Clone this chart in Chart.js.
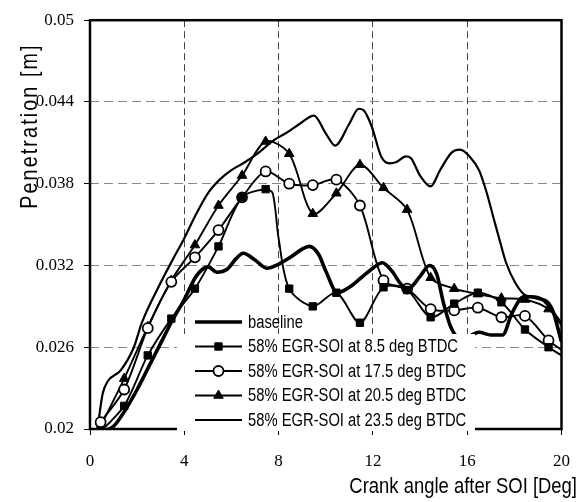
<!DOCTYPE html>
<html>
<head>
<meta charset="utf-8">
<script src="https://cdn.jsdelivr.net/npm/chart.js@4/dist/chart.umd.min.js"></script>
<style>
html,body{margin:0;padding:0;background:#fff;}
canvas{display:block;}
</style>
</head>
<body>
<canvas id="c" width="586" height="502"></canvas>
<script>
// ---- data ----
const xTicks = [0, 4, 8, 12, 16, 20];
const yTicks = [0.02, 0.026, 0.032, 0.038, 0.044, 0.05];
const yTickLabels = ['0.02', '0.026', '0.032', '0.038', '0.044', '0.05'];
const markerX = [0.45, 1.45, 2.45, 3.45, 4.45, 5.45, 6.45, 7.45, 8.45, 9.45, 10.45, 11.45, 12.45, 13.45, 14.45, 15.45, 16.45, 17.45, 18.45, 19.45];

const seriesNames = ['baseline', '58% EGR-SOI at 8.5 deg BTDC', '58% EGR-SOI at 17.5 deg BTDC', '58% EGR-SOI at 20.5 deg BTDC', '58% EGR-SOI at 23.5 deg BTDC'];
const xTitle = 'Crank angle after SOI [Deg]';
const yTitle = 'Penetration [m]';

const baseX = [0.45, 1.0, 1.5, 2.0, 2.5, 3.0, 3.5, 4.0, 4.5, 5.0, 5.4, 5.8, 6.2, 6.5, 7.0, 7.5, 8.0, 8.5, 9.0, 9.3, 9.7, 10.0, 10.5, 11.0, 11.5, 12.0, 12.4, 12.8, 13.2, 13.5, 14.0, 14.4, 14.7, 15.0, 15.3, 15.6, 16.0, 16.5, 17.0, 17.5, 17.9, 18.4, 19.0, 19.6, 20.0];
const baseY = [0.0198, 0.0202, 0.0214, 0.0229, 0.0246, 0.0263, 0.0280, 0.0295, 0.0312, 0.0319, 0.0315, 0.0317, 0.0325, 0.0329, 0.0324, 0.0318, 0.0321, 0.0326, 0.0332, 0.0334, 0.0328, 0.0316, 0.0300, 0.0304, 0.0311, 0.0318, 0.0322, 0.0316, 0.0306, 0.0303, 0.0312, 0.0320, 0.0314, 0.0292, 0.0275, 0.0268, 0.0268, 0.0271, 0.0269, 0.0269, 0.0285, 0.0297, 0.0296, 0.0288, 0.0264];

const soi85X = [0.45, 1.45, 2.45, 3.45, 4.45, 5.45, 6.45, 7.45, 7.75, 8.0, 8.45, 9.45, 10.45, 11.45, 12.45, 13.45, 14.45, 15.45, 16.45, 17.45, 18.45, 19.45, 20.0];
const soi85Y = [0.0198, 0.0217, 0.0254, 0.0281, 0.0303, 0.0334, 0.0370, 0.0376, 0.0373, 0.0340, 0.0303, 0.0290, 0.0300, 0.0278, 0.0304, 0.0302, 0.0282, 0.0292, 0.0300, 0.0293, 0.0273, 0.0260, 0.0254];

const soi175X = [0.45, 1.45, 2.45, 3.45, 4.45, 5.45, 6.45, 7.45, 8.45, 9.45, 10.45, 11.45, 12.45, 13.45, 14.45, 15.45, 16.45, 17.45, 18.45, 19.45, 20.0];
const soi175Y = [0.0205, 0.0229, 0.0274, 0.0308, 0.0326, 0.0346, 0.0370, 0.0389, 0.0380, 0.0379, 0.0383, 0.0364, 0.0309, 0.0303, 0.0288, 0.0287, 0.0289, 0.0282, 0.0283, 0.0265, 0.0258];

const soi205X = [0.45, 1.45, 2.45, 3.45, 4.45, 5.45, 6.45, 7.45, 8.45, 9.45, 10.45, 11.45, 12.45, 13.45, 14.45, 15.45, 16.45, 17.45, 18.45, 19.45, 20.0];
const soi205Y = [0.0202, 0.0237, 0.0275, 0.0309, 0.0335, 0.0364, 0.0386, 0.0411, 0.0402, 0.0358, 0.0373, 0.0394, 0.0377, 0.0361, 0.0311, 0.0303, 0.0299, 0.0296, 0.0295, 0.0288, 0.0276];

const soi235X = [0.3, 0.54, 0.75, 1.3, 1.86, 2.2, 2.9, 3.5, 4.0, 4.45, 5.0, 5.5, 6.0, 6.5, 7.1, 7.8, 8.3, 8.9, 9.5, 10.0, 10.4, 11.0, 11.4, 11.6, 11.95, 12.35, 12.7, 13.0, 13.4, 13.6, 14.0, 14.45, 14.85, 15.35, 15.7, 16.1, 16.5, 16.8, 17.1, 17.4, 17.65, 18.05, 18.5, 19.0, 19.45, 20.0];
const soi235Y = [0.0198, 0.0226, 0.0235, 0.0243, 0.0260, 0.0278, 0.0304, 0.0324, 0.0340, 0.0356, 0.0373, 0.0383, 0.0390, 0.0395, 0.0402, 0.0412, 0.0417, 0.0424, 0.0430, 0.0417, 0.0408, 0.0424, 0.0435, 0.0434, 0.0422, 0.0400, 0.0395, 0.0396, 0.0400, 0.0399, 0.0386, 0.0378, 0.0390, 0.0403, 0.0405, 0.0400, 0.0390, 0.0375, 0.0356, 0.0337, 0.0322, 0.0307, 0.0298, 0.0297, 0.0290, 0.0278];

// ---- helpers ----
const pts = (xs, ys) => xs.map((x, i) => ({x: x, y: ys[i]}));
const isMarker = (x) => markerX.some(m => Math.abs(m - x) < 1e-6);
const markerRadius = (r) => (ctx) => (ctx.raw && isMarker(ctx.raw.x)) ? r : 0;

const SANS = '"Liberation Sans", Arial, sans-serif';
const SERIF = '"Liberation Serif", "DejaVu Serif", serif';
const NARROW_SCALE = 0.82;

function condensedText(ctx, text, x, y, opts) {
  ctx.save();
  ctx.translate(x, y);
  if (opts.rotate) ctx.rotate(opts.rotate);
  ctx.scale(NARROW_SCALE, 1);
  ctx.font = opts.font;
  if (opts.spacing) { try { ctx.letterSpacing = opts.spacing; } catch (e) {} }
  ctx.textAlign = opts.align || 'left';
  ctx.textBaseline = 'middle';
  ctx.fillStyle = '#000';
  ctx.fillText(text, 0, 0);
  ctx.restore();
}

const datasets = [
  {label: seriesNames[0], data: pts(baseX, baseY), borderColor: '#000', borderWidth: 3.6, pointRadius: 0, cubicInterpolationMode: 'monotone', legendMarker: null},
  {label: seriesNames[1], data: pts(soi85X, soi85Y), borderColor: '#000', borderWidth: 1.9, tension: 0.3,
    pointStyle: 'rect', pointRadius: markerRadius(5.2), pointBackgroundColor: '#000', pointBorderColor: '#000', pointBorderWidth: 1, legendMarker: 'rect', legendRadius: 5.2},
  {label: seriesNames[2], data: pts(soi175X, soi175Y), borderColor: '#000', borderWidth: 1.9, tension: 0.3,
    pointStyle: 'circle', pointRadius: markerRadius(5), pointBackgroundColor: '#fff', pointBorderColor: '#000', pointBorderWidth: 1.8, legendMarker: 'circle', legendRadius: 5},
  {label: seriesNames[3], data: pts(soi205X, soi205Y), borderColor: '#000', borderWidth: 1.9, tension: 0.3,
    pointStyle: 'triangle', pointRadius: markerRadius(5.5), pointBackgroundColor: '#000', pointBorderColor: '#000', pointBorderWidth: 1, legendMarker: 'triangle', legendRadius: 5.5},
  {label: seriesNames[4], data: pts(soi235X, soi235Y), borderColor: '#000', borderWidth: 2.2, pointRadius: 0, cubicInterpolationMode: 'monotone', legendMarker: null}
];

const framePlugin = {
  id: 'frame',
  afterDatasetsDraw(chart) {
    const {ctx, chartArea: a} = chart;
    ctx.save();
    ctx.strokeStyle = '#000';
    ctx.lineWidth = 2.5;
    ctx.strokeRect(a.left, a.top, a.right - a.left, a.bottom - a.top);
    ctx.restore();
  }
};

const legendPlugin = {
  id: 'insideLegend',
  afterDraw(chart) {
    const ctx = chart.ctx;
    const a = chart.chartArea;
    ctx.save();
    ctx.fillStyle = '#fff';
    ctx.fillRect(177, 334, 298, a.bottom + 2 - 334);
    const rows = [322, 346.5, 371, 395.5, 420];
    const x1 = 195, x2 = 242, mx = 218.5, tx = 248;
    chart.data.datasets.forEach((ds, i) => {
      const y = rows[i];
      ctx.strokeStyle = '#000';
      ctx.lineWidth = ds.borderWidth;
      ctx.beginPath(); ctx.moveTo(x1, y); ctx.lineTo(x2, y); ctx.stroke();
      if (ds.legendMarker) {
        ctx.fillStyle = ds.pointBackgroundColor;
        ctx.strokeStyle = ds.pointBorderColor;
        ctx.lineWidth = ds.pointBorderWidth;
        Chart.helpers.drawPoint(ctx, {pointStyle: ds.legendMarker, radius: ds.legendRadius, borderWidth: ds.pointBorderWidth, rotation: 0}, mx, y);
      }
      condensedText(ctx, ds.label, tx, y + 1, {font: '18px ' + SANS});
    });
    condensedText(ctx, xTitle, 577, 487, {font: '22.5px ' + SANS, align: 'right'});
    condensedText(ctx, yTitle, 30, 126, {font: '24px ' + SANS, align: 'center', rotate: -Math.PI / 2, spacing: '2.6px'});
    ctx.restore();
  }
};

new Chart(document.getElementById('c'), {
  type: 'line',
  data: {datasets: datasets},
  options: {
    responsive: false,
    animation: false,
    devicePixelRatio: 1,
    layout: {padding: {top: 20, right: 16, left: 0, bottom: 0}},
    plugins: {legend: {display: false}, tooltip: {enabled: false}},
    elements: {line: {fill: false}},
    scales: {
      x: {
        type: 'linear', min: 0, max: 20,
        afterBuildTicks: (s) => { s.ticks = xTicks.map(v => ({value: v})); },
        afterFit: (s) => { s.height = 73; },
        ticks: {color: '#000', font: {family: SERIF, size: 17}, padding: 16, maxRotation: 0, autoSkip: false},
        grid: {color: '#444', lineWidth: 1, tickLength: 6, tickColor: '#000', tickBorderDash: []},
        border: {display: false, dash: [7, 4]}
      },
      y: {
        type: 'linear', min: 0.02, max: 0.05,
        afterBuildTicks: (s) => { s.ticks = yTicks.map(v => ({value: v})); },
        afterFit: (s) => { s.width = 90; },
        ticks: {color: '#000', font: {family: SERIF, size: 17}, padding: 10, autoSkip: false,
          callback: (v, i) => yTickLabels[i]},
        grid: {color: '#888', lineWidth: 1, tickLength: 6, tickColor: '#000', tickBorderDash: []},
        border: {display: false, dash: [9, 5]}
      }
    }
  },
  plugins: [framePlugin, legendPlugin]
});
</script>
</body>
</html>
